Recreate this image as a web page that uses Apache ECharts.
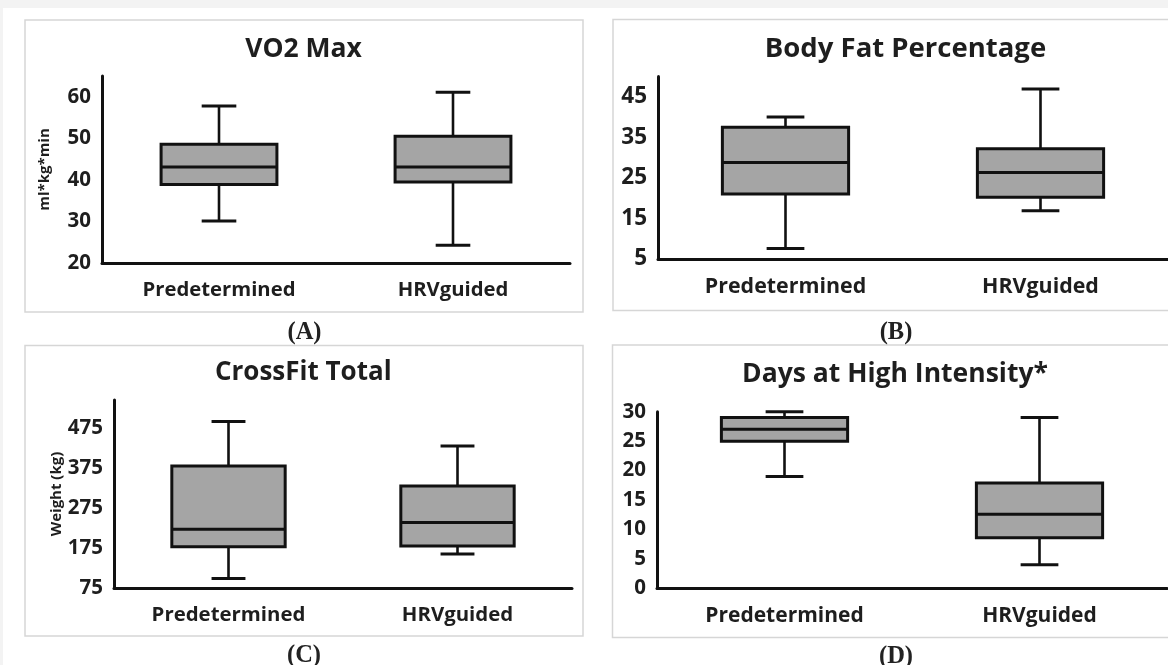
<!DOCTYPE html>
<html>
<head>
<meta charset="utf-8">
<script src="https://cdn.jsdelivr.net/npm/echarts@6/dist/echarts.min.js"></script>
<style>
  html, body { margin: 0; padding: 0; background: #ffffff; }
  #chart { width: 1168px; height: 665px; }
</style>
</head>
<body>
<div id="chart"></div>
<script>
// ---- data (min, Q1, median, Q3, max) ----
const categories = ['Predetermined', 'HRVguided'];

const vo2Pred = [30.1, 38.9, 43.1, 48.6, 57.8];
const vo2Hrv  = [24.3, 39.5, 43.1, 50.5, 61.1];

const fatPred = [7.6, 21.0, 28.8, 37.5, 40.0];
const fatHrv  = [16.9, 20.2, 26.3, 32.2, 46.9];

const crossPred = [99, 178, 222, 380, 491];
const crossHrv  = [160, 180, 239, 330, 430];

const daysPred = [19, 25, 27, 29, 30];
const daysHrv  = [4, 8.6, 12.6, 17.9, 29];

// tick labels
const vo2Ticks   = [20, 30, 40, 50, 60];
const fatTicks   = [5, 15, 25, 35, 45];
const crossTicks = [75, 175, 275, 375, 475];
const daysTicks  = [0, 5, 10, 15, 20, 25, 30];

const titles = ['VO2 Max', 'Body Fat Percentage', 'CrossFit Total', 'Days at High Intensity*'];
const panelLabels = ['(A)', '(B)', '(C)', '(D)'];
const yNames = ['ml*kg*min', '', 'Weight (kg)', ''];

// ---- styling ----
const INK = '#111111';
const TXT = '#1e1e1e';
const FILL = '#a5a5a5';
const SANS = '"Open Sans", Lato, sans-serif';

const grids = [
  { left: 102, top: 76,    width: 468, height: 187 },
  { left: 658, top: 76.5,  width: 529, height: 182.5 },
  { left: 114, top: 400,   width: 458, height: 188 },
  { left: 657, top: 411.7, width: 510, height: 176.6 }
];
const yRanges = [
  { min: 20, max: 65,  interval: 10,  ticks: vo2Ticks,   size: 20.5 },
  { min: 5,  max: 50,  interval: 10,  ticks: fatTicks,   size: 22.5 },
  { min: 75, max: 545, interval: 100, ticks: crossTicks, size: 20.5 },
  { min: 0,  max: 30,  interval: 5,   ticks: daysTicks,  size: 20.5 }
];
const catSizes = [20.3, 21.4, 20.4, 21];
const titleSizes = [26.5, 27.5, 26, 26.5];
const seriesData = [
  [vo2Pred, vo2Hrv],
  [fatPred, fatHrv],
  [crossPred, crossHrv],
  [daysPred, daysHrv]
];

function renderBox(params, api) {
  const xi = api.value(0);
  const mn = api.value(1), q1 = api.value(2), md = api.value(3), q3 = api.value(4), mx = api.value(5);
  const pMin = api.coord([xi, mn]);
  const pQ1 = api.coord([xi, q1]);
  const pMd = api.coord([xi, md]);
  const pQ3 = api.coord([xi, q3]);
  const pMax = api.coord([xi, mx]);
  const band = api.size([1, 0])[0];
  const bw = band * 0.495;
  const cw = band * 0.148;
  const cx = pMd[0];
  const ls = { stroke: INK, lineWidth: 3, fill: null };
  return {
    type: 'group',
    children: [
      { type: 'line', shape: { x1: cx, y1: pQ3[1], x2: cx, y2: pMax[1] }, style: Object.assign({}, ls, { lineWidth: 2.6 }) },
      { type: 'line', shape: { x1: cx, y1: pQ1[1], x2: cx, y2: pMin[1] }, style: Object.assign({}, ls, { lineWidth: 2.6 }) },
      { type: 'line', shape: { x1: cx - cw / 2, y1: pMax[1], x2: cx + cw / 2, y2: pMax[1] }, style: ls },
      { type: 'line', shape: { x1: cx - cw / 2, y1: pMin[1], x2: cx + cw / 2, y2: pMin[1] }, style: ls },
      { type: 'rect', shape: { x: cx - bw / 2, y: pQ3[1], width: bw, height: pQ1[1] - pQ3[1] },
        style: { fill: FILL, stroke: INK, lineWidth: 3 } },
      { type: 'line', shape: { x1: cx - bw / 2, y1: pMd[1], x2: cx + bw / 2, y2: pMd[1] }, style: ls }
    ]
  };
}

const titlePos = [[303.5, 49], [905.5, 49], [303.3, 373], [895, 374]];
const letterPos = [[304.5, 333], [896, 333], [304, 656], [896, 657]];

const option = {
  backgroundColor: '#ffffff',
  animation: false,
  grid: grids.map(g => Object.assign({ containLabel: false }, g)),
  xAxis: grids.map((g, i) => ({
    type: 'category',
    gridIndex: i,
    data: categories,
    boundaryGap: true,
    axisLine: { show: true, lineStyle: { color: INK, width: 3 } },
    axisTick: { show: false },
    splitLine: { show: false },
    axisLabel: {
      interval: 0, margin: 17, color: TXT,
      fontFamily: SANS, fontWeight: 'bold', fontSize: catSizes[i]
    }
  })),
  yAxis: yRanges.map((r, i) => ({
    type: 'value',
    gridIndex: i,
    min: r.min, max: r.max, interval: r.interval,
    name: yNames[i],
    nameLocation: 'middle',
    nameRotate: 90,
    nameGap: 50,
    nameTextStyle: { color: TXT, fontFamily: SANS, fontWeight: 'bold', fontSize: 15 },
    axisLine: { show: true, lineStyle: { color: INK, width: 3 } },
    axisTick: { show: false },
    splitLine: { show: false },
    axisLabel: {
      margin: 11, color: TXT, fontFamily: SANS, fontWeight: 'bold', fontSize: r.size,
      formatter: v => (r.ticks.indexOf(v) >= 0 ? String(v) : '')
    }
  })),
  series: seriesData.map((pair, i) => ({
    type: 'custom',
    xAxisIndex: i,
    yAxisIndex: i,
    renderItem: renderBox,
    encode: { x: 0, y: [1, 2, 3, 4, 5] },
    data: pair.map((d, k) => [k].concat(d))
  })),
  graphic: [
    // page background strips
    { type: 'rect', z: -10, shape: { x: 0, y: 0, width: 1168, height: 8 }, style: { fill: '#f3f3f3' } },
    { type: 'rect', z: -10, shape: { x: 0, y: 0, width: 3, height: 665 }, style: { fill: '#f3f3f3' } },
    // panel frames
    { type: 'rect', z: -5, shape: { x: 25, y: 20, width: 558, height: 292 }, style: { fill: 'none', stroke: '#d6d6d6', lineWidth: 1.5 } },
    { type: 'rect', z: -5, shape: { x: 613, y: 19.5, width: 600, height: 291 }, style: { fill: 'none', stroke: '#d6d6d6', lineWidth: 1.5 } },
    { type: 'rect', z: -5, shape: { x: 25, y: 345.5, width: 558, height: 290.5 }, style: { fill: 'none', stroke: '#d6d6d6', lineWidth: 1.5 } },
    { type: 'rect', z: -5, shape: { x: 612.5, y: 345, width: 600, height: 292.5 }, style: { fill: 'none', stroke: '#d6d6d6', lineWidth: 1.5 } }
  ].concat(titles.map((t, i) => ({
    type: 'text', x: titlePos[i][0], y: titlePos[i][1],
    style: { text: t, fill: TXT, font: 'bold ' + titleSizes[i] + 'px ' + SANS, align: 'center', verticalAlign: 'middle' }
  }))).concat(panelLabels.map((t, i) => ({
    type: 'text', x: letterPos[i][0], y: letterPos[i][1],
    style: { text: t, fill: '#222', font: 'bold 24.5px "Liberation Serif", serif', align: 'center', verticalAlign: 'middle' }
  })))
};

const chart = echarts.init(document.getElementById('chart'), null, { renderer: 'canvas' });
chart.setOption(option);
</script>
</body>
</html>
